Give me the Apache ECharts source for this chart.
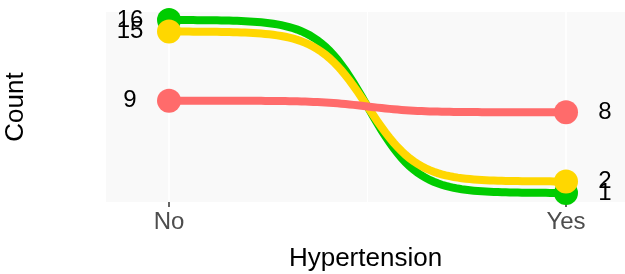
<!DOCTYPE html>
<html>
<head>
<meta charset="utf-8">
<script src="https://cdn.jsdelivr.net/npm/echarts@6/dist/echarts.min.js"></script>
<style>
  html, body { margin: 0; padding: 0; background: #fff; }
  #chart { width: 625px; height: 274px; }
</style>
</head>
<body>
<div id="chart"></div>
<script>
// Bump chart: counts per group, Hypertension No -> Yes
const categories = ['No', 'Yes'];
const noCounts = [16, 15, 9];
const yesCounts = [1, 2, 8];
const lineColors = ['#00CC00', '#FFD700', '#FF6B6B'];

const FONT = '"Liberation Sans", Arial, sans-serif';

// sigmoid path between the two points, like ggbump (smooth = 8)
function bumpRender(color) {
    return function (params, api) {
        const p0 = api.coord([0, api.value(0)]);
        const p1 = api.coord([1, api.value(1)]);
        const n = 100, smooth = 8;
        const pts = [];
        for (let i = 0; i < n; i++) {
            const t = -smooth + 2 * smooth * i / (n - 1);
            const s = Math.exp(t) / (Math.exp(t) + 1);
            pts.push([p0[0] + (p1[0] - p0[0]) * i / (n - 1), p0[1] + (p1[1] - p0[1]) * s]);
        }
        return {
            type: 'polyline',
            shape: { points: pts },
            style: { stroke: color, lineWidth: 8, fill: null }
        };
    };
}

const lineSeries = noCounts.map((v, i) => ({
    type: 'custom',
    renderItem: bumpRender(lineColors[i]),
    data: [[v, yesCounts[i]]],
    z: 2,
    silent: true
}));

const pointSeries = noCounts.map((v, i) => ({
    type: 'scatter',
    symbol: 'circle',
    symbolSize: 24,
    itemStyle: { color: lineColors[i], opacity: 1 },
    z: 3,
    data: [
        { value: [0, v], label: { offset: [-39, 0] } },
        { value: [1, yesCounts[i]], label: { offset: [39, 0] } }
    ],
    label: {
        show: true,
        position: 'inside',
        formatter: p => p.value[1],
        color: '#000',
        fontSize: 24,
        fontFamily: FONT
    }
}));

const xRange = { min: -0.1587, max: 1.1486 };

const chart = echarts.init(document.getElementById('chart'));
chart.setOption({
    animation: false,
    grid: {
        left: 106, right: 0, top: 12, bottom: 72,
        outerBoundsMode: 'none',
        containLabel: false,
        show: true, backgroundColor: '#F9F9F9', borderWidth: 0
    },
    xAxis: [{
        type: 'value',
        ...xRange,
        name: 'Hypertension',
        nameLocation: 'middle',
        nameGap: 44,
        nameTextStyle: { color: '#000', fontSize: 26, fontFamily: FONT },
        axisLine: { show: false },
        axisTick: { show: true, length: 5, customValues: [0, 1], lineStyle: { color: '#333', width: 1.5 } },
        axisLabel: {
            customValues: [0, 1],
            formatter: v => categories[Math.round(v)],
            color: '#4D4D4D', fontSize: 24, fontFamily: FONT, margin: 8
        },
        splitLine: { show: true, lineStyle: { color: '#fff', width: 1.5 } }
    }, {
        type: 'value',
        ...xRange,
        axisLine: { show: false },
        axisTick: { show: false, customValues: [0.5] },
        axisLabel: { show: false },
        splitLine: { show: true, lineStyle: { color: '#fff', width: 1 } }
    }],
    yAxis: {
        type: 'value',
        min: 0.22,
        max: 16.69,
        name: 'Count',
        nameLocation: 'middle',
        nameGap: 77,
        nameRotate: 90,
        nameTextStyle: { color: '#000', fontSize: 26, fontFamily: FONT },
        axisLine: { show: false },
        axisTick: { show: false },
        axisLabel: { show: false },
        splitLine: { show: false }
    },
    series: lineSeries.concat(pointSeries)
});
</script>
</body>
</html>
